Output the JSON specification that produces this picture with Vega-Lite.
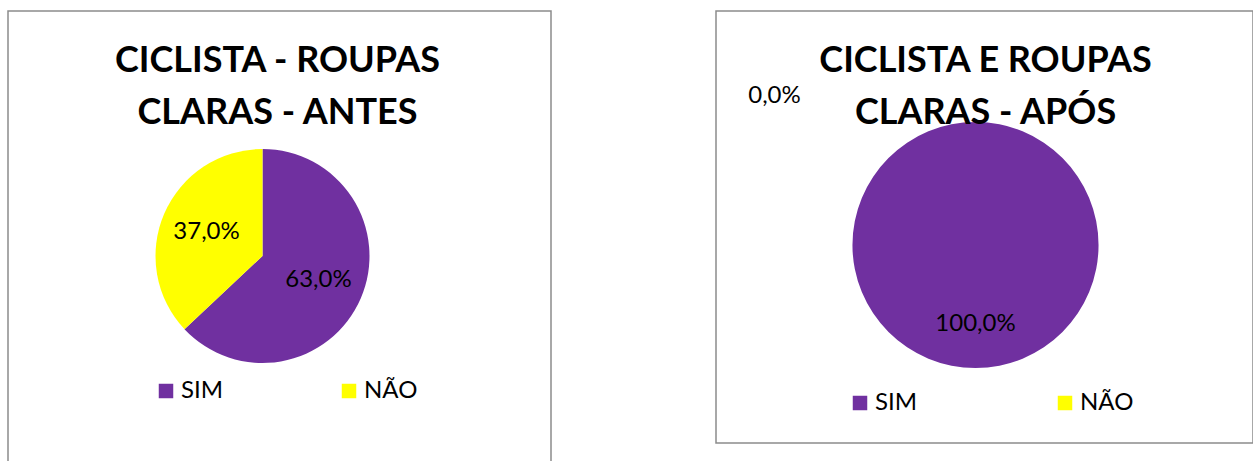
{
  "$schema": "https://vega.github.io/schema/vega-lite/v6.json",
  "padding": {"left": 7, "top": 10, "right": 0, "bottom": 0},
  "autosize": {"type": "pad"},
  "config": {
    "locale": {
      "number": {"decimal": ",", "thousands": ".", "grouping": [3], "currency": ["R$", ""]}
    },
    "font": "Lato",
    "concat": {"spacing": 163},
    "title": {
      "font": "Lato",
      "fontSize": 36,
      "fontWeight": "bold",
      "color": "#000000",
      "lineHeight": 52,
      "anchor": "middle",
      "frame": "group"
    },
    "legend": {
      "orient": "none",
      "direction": "horizontal",
      "title": null,
      "symbolType": "square",
      "symbolSize": 210,
      "symbolStrokeWidth": 0,
      "labelFont": "Lato",
      "labelFontSize": 24,
      "labelColor": "#000000",
      "labelOffset": 3,
      "padding": 0
    }
  },
  "resolve": {"scale": {"color": "independent"}, "legend": {"color": "independent"}},
  "datasets": {
    "respostas": [
      {"momento": "ANTES", "resposta": "SIM", "fracao": 0.63},
      {"momento": "ANTES", "resposta": "NÃO", "fracao": 0.37},
      {"momento": "APÓS", "resposta": "SIM", "fracao": 1.0},
      {"momento": "APÓS", "resposta": "NÃO", "fracao": 0.0}
    ]
  },
  "hconcat": [
    {
      "width": 543,
      "height": 452,
      "view": {"stroke": "#8c8c8c", "strokeWidth": 1.5, "fill": null},
      "title": {"text": ["CICLISTA - ROUPAS", "CLARAS - ANTES"], "offset": -121, "dx": -2},
      "data": {"name": "respostas"},
      "transform": [{"filter": "datum.momento === 'ANTES'"}],
      "encoding": {
        "theta": {"field": "fracao", "type": "quantitative", "stack": true},
        "order": {"field": "fracao", "type": "quantitative", "sort": "descending"}
      },
      "layer": [
        {
          "mark": {"type": "arc", "outerRadius": 107, "xOffset": -17, "yOffset": 19},
          "encoding": {
            "color": {
              "field": "resposta",
              "type": "nominal",
              "sort": ["SIM", "NÃO"],
              "scale": {"domain": ["SIM", "NÃO"], "range": ["#7030A0", "#FFFF00"]},
              "legend": {"legendX": 146, "legendY": 368, "columnPadding": 113}
            }
          }
        },
        {
          "mark": {"type": "text", "radius": 61, "fontSize": 24, "color": "#000000", "xOffset": -17, "yOffset": 19},
          "encoding": {
            "text": {"field": "fracao", "type": "quantitative", "format": ".1%"}
          }
        }
      ]
    },
    {
      "width": 537,
      "height": 432,
      "view": {"stroke": "#8c8c8c", "strokeWidth": 1.5, "fill": null},
      "title": {"text": ["CICLISTA E ROUPAS", "CLARAS - APÓS"], "offset": -121, "dx": 1},
      "data": {"name": "respostas"},
      "transform": [{"filter": "datum.momento === 'APÓS'"}],
      "encoding": {
        "theta": {"field": "fracao", "type": "quantitative", "stack": true},
        "order": {"field": "fracao", "type": "quantitative", "sort": "descending"}
      },
      "layer": [
        {
          "mark": {"type": "arc", "outerRadius": 123, "xOffset": -9, "yOffset": 18},
          "encoding": {
            "color": {
              "field": "resposta",
              "type": "nominal",
              "sort": ["SIM", "NÃO"],
              "scale": {"domain": ["SIM", "NÃO"], "range": ["#7030A0", "#FFFF00"]},
              "legend": {"legendX": 132, "legendY": 380, "columnPadding": 135}
            }
          }
        },
        {
          "transform": [{"filter": "datum.fracao > 0"}],
          "mark": {"type": "text", "radius": 79, "fontSize": 24, "color": "#000000", "xOffset": -9, "yOffset": 18},
          "encoding": {
            "text": {"field": "fracao", "type": "quantitative", "format": ".1%"}
          }
        },
        {
          "transform": [{"filter": "datum.fracao === 0"}],
          "mark": {"type": "text", "radius": 149, "fontSize": 24, "color": "#000000", "xOffset": -9, "yOffset": 18, "dx": -201},
          "encoding": {
            "text": {"field": "fracao", "type": "quantitative", "format": ".1%"}
          }
        }
      ]
    }
  ]
}
